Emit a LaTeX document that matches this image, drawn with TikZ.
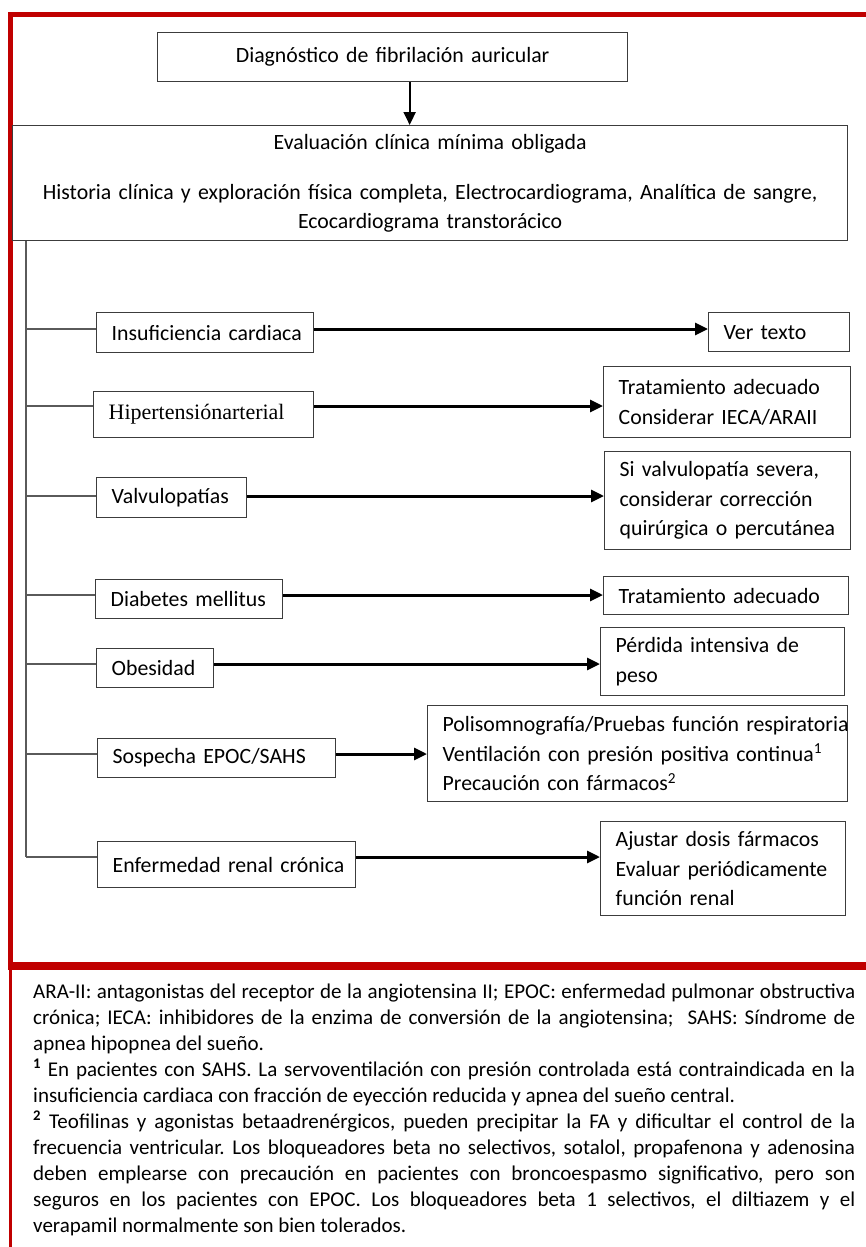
\documentclass[tikz,border=0pt]{standalone}
\usepackage{fontspec}
\setmainfont{Carlito}
\newfontfamily\serifface{Liberation Serif}
\usetikzlibrary{arrows.meta}
\definecolor{framered}{HTML}{C00000}
\definecolor{boxline}{HTML}{3C3C3C}
\definecolor{branchgray}{HTML}{5A5A5A}
\newcommand{\oneline}[1]{\mbox{#1}}
\frenchspacing

\begin{document}
\begin{tikzpicture}[x=1pt,y=-1pt,
  box/.style={draw=boxline, line width=1.3pt, fill=white, inner xsep=15pt,
    inner ysep=0pt, anchor=north west, align=left,
    font=\fontsize{21.8}{29.5}\selectfont},
  cbox/.style={box, align=center},
  branch/.style={draw=branchgray, line width=1.6pt},
  arr/.style={line width=3pt, -{Triangle[length=13pt,width=12pt]}},
  mainarr/.style={line width=2pt, -{Triangle[length=13pt,width=12pt]}}]

\useasboundingbox (0,0) rectangle (866,1247);
\fill[white] (0,0) rectangle (866,1247);

% red frame around the flowchart and margin line of the notes
\fill[framered] (8,12) rectangle (866,17);
\fill[framered] (8,12) rectangle (13,970);
\fill[framered] (8,962) rectangle (866,970);
\fill[framered] (8.5,970) rectangle (11.5,1247);

% top of the chart
\node[cbox, minimum width=470pt, text width=440pt, minimum height=49pt] (diag) at (157,32)
  {\oneline{Diagnóstico de fibrilación auricular}};
\node[cbox, minimum width=835pt, text width=805pt, minimum height=115pt] (eval) at (12,125)
  {\oneline{Evaluación clínica mínima obligada}\\[20.5pt]
   \oneline{Historia clínica y exploración física completa, Electrocardiograma, Analítica de sangre,}\\
   \oneline{Ecocardiograma transtorácico}};
\draw[mainarr] ([xshift=17pt]diag.south) -- ([xshift=17pt]diag.south |- eval.north);

% conditions (left column)
\node[box, minimum width=217pt, text width=187pt, minimum height=40pt] (l1) at (96,312)
  {\oneline{Insuficiencia cardiaca}};
\node[box, minimum width=220pt, text width=190pt, minimum height=46pt,
  font=\serifface\fontsize{22}{29.5}\selectfont] (l2) at (93,391)
  {\oneline{Hipertensiónarterial}};
\node[box, minimum width=150pt, text width=120pt, minimum height=40pt] (l3) at (96,477)
  {\oneline{Valvulopatías}};
\node[box, minimum width=187pt, text width=157pt, minimum height=39pt] (l4) at (95,579)
  {\oneline{Diabetes mellitus}};
\node[box, minimum width=117pt, text width=87pt, minimum height=39pt] (l5) at (96,648)
  {\oneline{Obesidad}};
\node[box, minimum width=238pt, text width=208pt, minimum height=39pt] (l6) at (97,738)
  {\oneline{Sospecha EPOC/SAHS}};
\node[box, minimum width=258pt, text width=228pt, minimum height=46pt] (l7) at (97,841)
  {\oneline{Enfermedad renal crónica}};

% actions (right column)
\node[box, minimum width=141pt, text width=111pt, minimum height=39pt] (r1) at (708,312)
  {\oneline{Ver texto}};
\node[box, minimum width=247pt, text width=217pt, minimum height=71pt] (r2) at (603,366)
  {\oneline{Tratamiento adecuado}\\ \oneline{Considerar IECA/ARAII}};
\node[box, minimum width=246pt, text width=216pt, minimum height=98pt] (r3) at (604,451)
  {\oneline{Si valvulopatía severa,}\\ \oneline{considerar corrección}\\ \oneline{quirúrgica o percutánea}};
\node[box, minimum width=245pt, text width=215pt, minimum height=38pt] (r4) at (603,576)
  {\oneline{Tratamiento adecuado}};
\node[box, minimum width=244pt, text width=214pt, minimum height=68pt] (r5) at (600,627)
  {\oneline{Pérdida intensiva de}\\ \oneline{peso}};
\node[box, minimum width=420pt, text width=390pt, minimum height=96pt] (r6) at (427,705)
  {\oneline{Polisomnografía/Pruebas función respiratoria}\\
   \oneline{Ventilación con presión positiva continua\textsuperscript{1}}\\
   \oneline{Precaución con fármacos\textsuperscript{2}}};
\node[box, minimum width=245pt, text width=215pt, minimum height=94pt] (r7) at (600,821)
  {\oneline{Ajustar dosis fármacos}\\ \oneline{Evaluar periódicamente}\\ \oneline{función renal}};

% trunk, branches and arrows
\coordinate (tk) at (26,0);
\coordinate (y1) at (0,329);
\coordinate (y2) at (0,406);
\coordinate (y3) at (0,496);
\coordinate (y4) at (0,595);
\coordinate (y5) at (0,664);
\coordinate (y6) at (0,754);
\coordinate (y7) at (0,857);
\draw[branch] (eval.south -| tk) -- (tk |- y7);
\foreach \i in {1,...,7}{
  \draw[branch] (tk |- y\i) -- (l\i.west |- y\i);
  \draw[arr] (l\i.east |- y\i) -- (r\i.west |- y\i);
}

% abbreviations and notes
\node[anchor=base west, inner sep=0pt] (notes) at (33,998)
  {\parbox[t]{822pt}{\fontsize{21}{26}\selectfont
   \tolerance=10000 \hyphenpenalty=10000 \exhyphenpenalty=10000
   ARA-II: antagonistas del receptor de la angiotensina II; EPOC: enfermedad pulmonar obstructiva\linebreak
   crónica; IECA: inhibidores de la enzima de conversión de la angiotensina;\ \ SAHS: Síndrome de\linebreak
   apnea hipopnea del sueño.\par
   \textsuperscript{\textbf{1}} En pacientes con SAHS. La servoventilación con presión controlada está contraindicada en la\linebreak
   insuficiencia cardiaca con fracción de eyección reducida y apnea del sueño central.\par
   \textsuperscript{\textbf{2}} Teofilinas y agonistas betaadrenérgicos, pueden precipitar la FA y dificultar el control de la\linebreak
   frecuencia ventricular. Los bloqueadores beta no selectivos, sotalol, propafenona y adenosina\linebreak
   deben emplearse con precaución en pacientes con broncoespasmo significativo, pero son\linebreak
   seguros en los pacientes con EPOC. Los bloqueadores beta 1 selectivos, el diltiazem y el\linebreak
   verapamil normalmente son bien tolerados.}};
\end{tikzpicture}
\end{document}
